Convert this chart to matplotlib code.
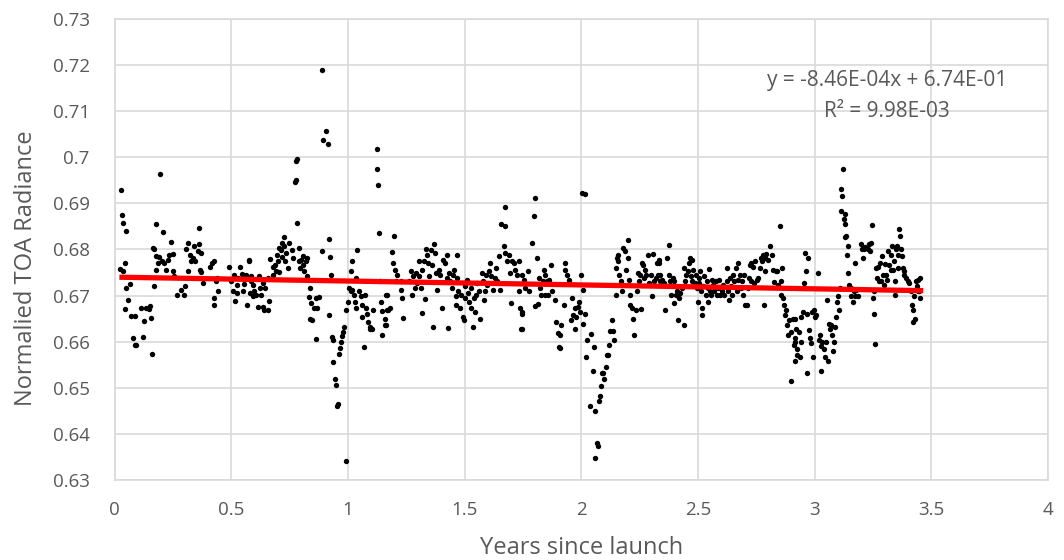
import numpy as np
import matplotlib
matplotlib.use("Agg")
import matplotlib.pyplot as plt

# ---- data ----
years_a = [0.028,0.031,0.035,0.050,0.024,0.035,0.044,0.047,0.064,0.057,0.044,0.071,0.088,0.078,0.085,0.092,
           0.114,0.125,0.121,0.135,0.146,0.152,0.156,0.159,0.170,0.175,0.163,0.170,0.177,0.177,0.185,0.192,
           0.196,0.206,0.202,0.210,0.220,0.227,0.234,0.243,0.252,0.249,0.256,0.267,0.284,0.296,0.303,0.306,
           0.313,0.316,0.323,0.327,0.334,0.341,0.345,0.355,0.360,0.363,0.365,0.370,0.377,0.368,0.408,0.416,
           0.424,0.426,0.424,0.434,0.441,0.437,0.491,0.498,0.505,0.512,0.516,0.522,0.526,0.530,0.537,0.545,
           0.550,0.555,0.562,0.569,0.576,0.580,0.583]
rad_a = [0.6928,0.6875,0.6857,0.6840,0.6758,0.6754,0.6770,0.6716,0.6725,0.6690,0.6670,0.6656,0.6656,0.6609,0.6593,0.6593,
         0.6674,0.6644,0.6610,0.6674,0.6671,0.6677,0.6651,0.6574,0.6721,0.6855,0.6804,0.6800,0.6785,0.6755,0.6771,0.6783,
         0.6964,0.6838,0.6776,0.6771,0.6756,0.6778,0.6789,0.6817,0.6790,0.6753,0.6742,0.6702,0.6712,0.6702,0.6720,0.6800,
         0.6753,0.6815,0.6789,0.6774,0.6781,0.6807,0.6774,0.6796,0.6811,0.6847,0.6756,0.6792,0.6727,0.6751,0.6763,0.6770,
         0.6775,0.6694,0.6680,0.6731,0.6709,0.6739,0.6762,0.6731,0.6709,0.6745,0.6688,0.6723,0.6705,0.6738,0.6763,0.6746,
         0.6709,0.6725,0.6745,0.6680,0.6778,0.6705,0.6731]

years_b = [0.577,0.584,0.591,0.598,0.594,0.605,0.613,0.620,0.622,0.627,0.634,0.634,0.641,0.645,0.655,0.655,
           0.662,0.665,0.677,0.679,0.688,0.691,0.694,0.698,0.702,0.705,0.712,0.715,0.719,0.724,0.726,0.731,
           0.736,0.741,0.745,0.759,0.762,0.772,0.776,0.779,0.783,0.783,0.788,0.790,0.793,0.797,0.805,0.809,
           0.812,0.819,0.822,0.826,0.833,0.837,0.840,0.837,0.844,0.854,0.861,0.869,0.876,0.864,0.887,0.890,
           0.893,0.904,0.916,0.918,0.921,0.926,0.918,0.930,0.935,0.937,0.944,0.950,0.951,0.955,0.961,0.965,
           0.970,0.975,0.980,0.982,0.990,0.992,1.001,1.004,1.011,1.015,1.011,1.018,1.025,1.029,1.032,1.039,
           1.035,1.046,1.054,1.058,1.061,1.068,1.072,1.075,1.082,1.086,1.092,1.096,1.103,1.106,1.125,1.125,
           1.129,1.132,1.136,1.140,1.146,1.146,1.157,1.160,1.163,1.167]
rad_b = [0.6774,0.6742,0.6723,0.6709,0.6698,0.6701,0.6676,0.6742,0.6717,0.6701,0.6727,0.6676,0.6669,0.6717,0.6739,0.6669,
         0.6688,0.6780,0.6763,0.6745,0.6767,0.6753,0.6789,0.6776,0.6804,0.6752,0.6798,0.6815,0.6783,0.6827,0.6807,0.6774,
         0.6792,0.6760,0.6813,0.6798,0.6782,0.6946,0.6950,0.6993,0.6997,0.6858,0.6774,0.6804,0.6760,0.6778,0.6767,0.6785,
         0.6753,0.6774,0.6782,0.6742,0.6697,0.6717,0.6683,0.6650,0.6647,0.6672,0.6694,0.6672,0.6697,0.6605,0.6796,0.7189,
         0.7037,0.7058,0.7028,0.6822,0.6783,0.6745,0.6658,0.6610,0.6603,0.6555,0.6520,0.6506,0.6461,0.6464,0.6574,0.6586,
         0.6599,0.6612,0.6621,0.6632,0.6340,0.6669,0.6687,0.6716,0.6753,0.6774,0.6709,0.6712,0.6701,0.6687,0.6672,0.6798,
         0.6739,0.6709,0.6698,0.6680,0.6654,0.6588,0.6701,0.6672,0.6661,0.6643,0.6632,0.6628,0.6628,0.6669,0.7019,0.6974,
         0.6939,0.6836,0.6731,0.6687,0.6666,0.6615,0.6650,0.6636,0.6701,0.6669]

years_c = [1.162,1.169,1.173,1.179,1.190,1.193,1.198,1.202,1.208,1.205,1.226,1.230,1.226,1.236,1.262,1.269,
           1.276,1.279,1.287,1.293,1.297,1.304,1.304,1.311,1.316,1.318,1.326,1.330,1.333,1.340,1.344,1.347,
           1.354,1.361,1.365,1.368,1.373,1.378,1.382,1.390,1.394,1.404,1.407,1.415,1.422,1.425,1.429,1.432,
           1.439,1.446,1.449,1.456,1.461,1.464,1.468,1.468,1.472,1.478,1.486,1.492,1.496,1.500,1.503,1.510,
           1.515,1.520,1.525,1.529,1.535,1.539,1.543,1.549,1.553,1.560,1.567,1.572,1.577,1.582,1.586,1.593,
           1.596,1.603,1.610,1.614,1.620,1.629,1.634,1.639,1.646,1.653,1.657,1.667,1.671,1.674,1.674,1.681,
           1.688,1.695,1.700,1.703,1.710,1.717,1.724,1.731,1.734,1.738,1.742,1.745,1.752]
rad_c = [0.6636,0.6701,0.6669,0.6672,0.6794,0.6771,0.6829,0.6756,0.6745,0.6731,0.6712,0.6694,0.6731,0.6652,0.6731,0.6753,
         0.6701,0.6742,0.6717,0.6749,0.6727,0.6776,0.6742,0.6717,0.6663,0.6756,0.6774,0.6692,0.6800,0.6789,0.6771,0.6742,
         0.6798,0.6767,0.6632,0.6811,0.6792,0.6749,0.6712,0.6756,0.6745,0.6674,0.6778,0.6771,0.6789,0.6739,0.6630,0.6749,
         0.6731,0.6717,0.6745,0.6756,0.6680,0.6698,0.6787,0.6739,0.6709,0.6672,0.6701,0.6654,0.6647,0.6694,0.6720,0.6734,
         0.6705,0.6687,0.6717,0.6672,0.6632,0.6694,0.6665,0.6701,0.6727,0.6709,0.6650,0.6749,0.6731,0.6690,0.6709,0.6745,
         0.6723,0.6753,0.6771,0.6742,0.6712,0.6739,0.6760,0.6731,0.6785,0.6712,0.6855,0.6807,0.6851,0.6893,0.6792,0.6774,
         0.6789,0.6749,0.6683,0.6774,0.6771,0.6756,0.6745,0.6774,0.6709,0.6672,0.6628,0.6661,0.6727]

years_d = [1.746,1.746,1.746,1.753,1.760,1.772,1.777,1.789,1.796,1.803,1.800,1.810,1.814,1.817,1.824,1.828,
           1.834,1.838,1.843,1.846,1.853,1.857,1.863,1.871,1.874,1.888,1.893,1.899,1.902,1.910,1.914,1.910,
           1.924,1.928,1.931,1.938,1.945,1.949,1.955,1.959,1.966,1.971,1.974,1.978,1.985,1.988,1.995,1.999,
           2.002,2.016,2.006,2.009,2.016,2.023,2.019,2.038,2.042,2.049,2.052,2.059,2.059,2.066,2.073,2.076,
           2.080,2.083,2.087,2.094,2.099,2.104,2.109,2.113,2.119,2.123,2.133,2.137,2.141,2.147,2.149,2.151,
           2.156,2.158,2.163,2.170,2.173,2.180,2.187,2.190,2.198,2.201,2.204,2.208,2.208,2.215,2.222,2.227,
           2.232,2.237,2.241,2.247,2.251,2.255,2.258,2.265,2.269,2.272,2.279,2.287,2.291,2.298,2.304,2.308,
           2.312,2.319,2.326,2.329,2.332,2.336]
rad_d = [0.6745,0.6665,0.6628,0.6734,0.6716,0.6754,0.6709,0.6815,0.6873,0.6911,0.6677,0.6782,0.6681,0.6738,0.6716,0.6701,
         0.6731,0.6756,0.6745,0.6701,0.6731,0.6701,0.6734,0.6766,0.6709,0.6691,0.6643,0.6618,0.6588,0.6586,0.6636,0.6615,
         0.6680,0.6771,0.6756,0.6745,0.6727,0.6734,0.6647,0.6694,0.6658,0.6628,0.6672,0.6654,0.6675,0.6686,0.6665,0.6745,
         0.6922,0.6920,0.6712,0.6639,0.6661,0.6603,0.6566,0.6461,0.6617,0.6537,0.6588,0.6450,0.6347,0.6380,0.6374,0.6472,
         0.6483,0.6504,0.6533,0.6532,0.6520,0.6545,0.6570,0.6570,0.6593,0.6624,0.6646,0.6624,0.6603,0.6701,0.6759,0.6782,
         0.6774,0.6789,0.6745,0.6731,0.6709,0.6804,0.6796,0.6756,0.6820,0.6782,0.6734,0.6701,0.6680,0.6672,0.6650,0.6615,
         0.6669,0.6709,0.6749,0.6731,0.6745,0.6671,0.6771,0.6767,0.6739,0.6756,0.6745,0.6789,0.6727,0.6745,0.6698,0.6791,
         0.6731,0.6739,0.6771,0.6745,0.6778,0.6731]

years_e = [2.331,2.338,2.345,2.352,2.359,2.367,2.374,2.377,2.381,2.385,2.391,2.395,2.399,2.405,2.409,2.413,
           2.419,2.423,2.431,2.438,2.439,2.445,2.449,2.456,2.462,2.466,2.470,2.473,2.476,2.480,2.485,2.490,
           2.495,2.499,2.502,2.505,2.509,2.513,2.516,2.519,2.523,2.527,2.533,2.537,2.542,2.544,2.549,2.551,
           2.556,2.559,2.566,2.570,2.576,2.580,2.584,2.590,2.594,2.601,2.608,2.613,2.623,2.623,2.627,2.633,
           2.637,2.641,2.647,2.651,2.655,2.661,2.665,2.670,2.672,2.679,2.684,2.689,2.694,2.698,2.701,2.708,
           2.712,2.718,2.722,2.726,2.729,2.736,2.740,2.743,2.751,2.758,2.765,2.769,2.775,2.779,2.783,2.786,
           2.789,2.793,2.800,2.808,2.815,2.822,2.826,2.832,2.840,2.843,2.850,2.854,2.857,2.860,2.864,2.868,
           2.871,2.878,2.883,2.885,2.890,2.897,2.900,2.907,2.911,2.914,2.917,2.921]
rad_e = [0.6771,0.6745,0.6734,0.6727,0.6669,0.6782,0.6809,0.6745,0.6731,0.6701,0.6739,0.6731,0.6683,0.6701,0.6709,0.6647,
         0.6694,0.6705,0.6716,0.6760,0.6637,0.6731,0.6745,0.6753,0.6771,0.6782,0.6742,0.6778,0.6731,0.6756,0.6727,0.6745,
         0.6716,0.6687,0.6739,0.6727,0.6753,0.6709,0.6674,0.6658,0.6720,0.6742,0.6701,0.6731,0.6716,0.6687,0.6758,0.6709,
         0.6701,0.6734,0.6723,0.6709,0.6731,0.6701,0.6716,0.6734,0.6701,0.6709,0.6723,0.6701,0.6760,0.6731,0.6709,0.6690,
         0.6739,0.6720,0.6701,0.6745,0.6731,0.6760,0.6709,0.6771,0.6734,0.6745,0.6716,0.6731,0.6701,0.6745,0.6680,0.6680,
         0.6716,0.6739,0.6767,0.6731,0.6771,0.6763,0.6727,0.6774,0.6734,0.6739,0.6760,0.6782,0.6774,0.6789,0.6680,0.6753,
         0.6782,0.6791,0.6778,0.6807,0.6789,0.6756,0.6729,0.6754,0.6753,0.6722,0.6851,0.6731,0.6701,0.6760,0.6694,0.6680,
         0.6658,0.6669,0.6636,0.6615,0.6647,0.6621,0.6515,0.6650,0.6592,0.6559,0.6607,0.6628]

years_f = [2.915,2.915,2.922,2.926,2.932,2.936,2.941,2.943,2.951,2.955,2.958,2.961,2.965,2.969,2.972,2.975,
           2.979,2.983,2.989,2.993,2.997,3.003,3.007,3.015,3.017,3.022,3.026,3.029,3.032,3.040,3.046,3.050,
           3.054,3.057,3.060,3.064,3.069,3.074,3.079,3.083,3.086,3.093,3.097,3.100,3.103,3.107,3.111,3.114,
           3.117,3.121,3.124,3.128,3.128,3.135,3.131,3.140,3.143,3.143,3.147,3.154,3.157,3.164,3.168,3.171,
           3.174,3.178,3.185,3.199,3.202,3.207,3.211,3.214,3.228,3.231,3.235,3.242,3.246,3.249,3.254,3.256,
           3.259,3.261,3.268,3.271,3.275,3.278,3.282,3.288,3.292,3.296,3.302,3.306,3.310,3.313,3.320,3.325,
           3.327,3.330,3.335,3.339,3.342,3.345,3.349,3.353,3.356,3.359,3.363,3.367,3.370,3.373,3.377,3.382,
           3.384,3.392,3.399,3.406,3.413,3.416,3.420,3.420,3.427,3.430,3.434,3.438,3.441,3.444,3.448,3.452,3.452]
rad_f = [0.6650,0.6599,0.6570,0.6585,0.6621,0.6566,0.6654,0.6599,0.6665,0.6727,0.6793,0.6753,0.6661,0.6532,0.6782,0.6625,
         0.6607,0.6596,0.6665,0.6566,0.6669,0.6654,0.6658,0.6749,0.6603,0.6615,0.6537,0.6591,0.6599,0.6585,0.6566,0.6599,
         0.6690,0.6557,0.6639,0.6628,0.6636,0.6615,0.6579,0.6599,0.6632,0.6654,0.6687,0.6698,0.6669,0.6716,0.6884,0.6931,
         0.6917,0.6975,0.6866,0.6855,0.6827,0.6829,0.6876,0.6789,0.6749,0.6807,0.6723,0.6716,0.6698,0.6687,0.6709,0.6771,
         0.6698,0.6712,0.6698,0.6811,0.6800,0.6782,0.6800,0.6805,0.6800,0.6811,0.6796,0.6815,0.6853,0.6694,0.6709,0.6661,
         0.6595,0.6760,0.6739,0.6763,0.6731,0.6771,0.6731,0.6785,0.6745,0.6723,0.6769,0.6745,0.6734,0.6796,0.6767,0.6756,
         0.6789,0.6807,0.6756,0.6774,0.6701,0.6731,0.6800,0.6807,0.6789,0.6760,0.6844,0.6829,0.6800,0.6785,0.6760,0.6753,
         0.6745,0.6739,0.6731,0.6727,0.6709,0.6680,0.6669,0.6643,0.6698,0.6650,0.6731,0.6720,0.6709,0.6734,0.6709,0.6739,0.6694]

trend_slope = -8.46e-04
trend_intercept = 6.74e-01
trend_x_range = [0.02, 3.465]

x_ticks = [0, 0.5, 1, 1.5, 2, 2.5, 3, 3.5, 4]
y_ticks = [0.63, 0.64, 0.65, 0.66, 0.67, 0.68, 0.69, 0.70, 0.71, 0.72, 0.73]
y_tick_labels = ["0.63", "0.64", "0.65", "0.66", "0.67", "0.68", "0.69", "0.7", "0.71", "0.72", "0.73"]
eq_text = "y = -8.46E-04x + 6.74E-01"
r2_text = "R² = 9.98E-03"
x_label = "Years since launch"
y_label = "Normalied TOA Radiance"

# ---- plot ----
plt.rcParams['font.family'] = ['Open Sans', 'DejaVu Sans']
txt_color = "#595959"
grid_color = "#d9d9d9"

fig = plt.figure(figsize=(10.64, 5.6), dpi=100)
ax = fig.add_axes([0.1078, 0.143, 0.8772, 0.823])

xs = np.concatenate([years_a, years_b, years_c, years_d, years_e, years_f])
ys = np.concatenate([rad_a, rad_b, rad_c, rad_d, rad_e, rad_f])
ax.scatter(xs, ys, s=15, color="black", linewidths=0, zorder=3)

tx = np.array(trend_x_range)
ax.plot(tx, trend_slope * tx + trend_intercept, color="#ff0000", lw=3.8, zorder=4,
        solid_capstyle="butt")

ax.set_xlim(0, 4)
ax.set_ylim(0.63, 0.73)
ax.set_xticks(x_ticks)
ax.set_xticklabels([f"{t:g}" for t in x_ticks])
ax.set_yticks(y_ticks)
ax.set_yticklabels(y_tick_labels)
ax.grid(True, color=grid_color, lw=1.2, zorder=0)
ax.set_axisbelow(True)
for s in ax.spines.values():
    s.set_color(grid_color)
    s.set_linewidth(1.2)
ax.tick_params(axis="y", length=0, labelsize=13.5, colors=txt_color, pad=18)
ax.tick_params(axis="x", length=0, labelsize=13.5, colors=txt_color, pad=15)
ax.set_xlabel(x_label, fontsize=17, color=txt_color)
ax.set_ylabel(y_label, fontsize=17, color=txt_color)
ax.xaxis.set_label_coords(0.5, -0.122)
ax.yaxis.set_label_coords(-0.082, 0.46)

ax.text(3.31, 0.7166, eq_text, ha="center", va="center", fontsize=15, color=txt_color, zorder=5)
ax.text(3.31, 0.7099, r2_text, ha="center", va="center", fontsize=15, color=txt_color, zorder=5)

fig.savefig("out.png", dpi=100)
